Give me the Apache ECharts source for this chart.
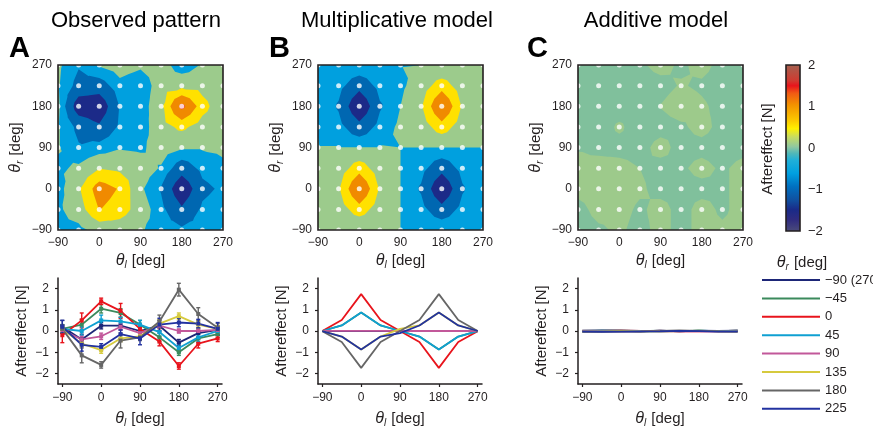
<!DOCTYPE html>
<html><head><meta charset="utf-8">
<script src="https://cdn.jsdelivr.net/npm/echarts@6/dist/echarts.min.js"></script>
<style>html,body{margin:0;padding:0;background:#fff}#c{width:873px;height:429px}</style>
</head><body><div id="c"></div>
<script>
// ---------------- data ----------------
const thetaL = [-90, -45, 0, 45, 90, 135, 180, 225, 270];
const thetaR = [-90, -45, 0, 45, 90, 135, 180, 225, 270];
const xTickValues = [-90, 0, 90, 180, 270];
const yTickValues = [-2, -1, 0, 1, 2];
const lineNames = ['\u221290 (270)', '\u221245', '0', '45', '90', '135', '180', '225'];
const lineColors = ['#1d2677', '#3b8a5c', '#e8141c', '#0fa0d2', '#c2589a', '#d6ca3e', '#666666', '#2232a0'];

// observed aftereffect, one array per theta_r (x = theta_l)
const obsM90 = [0.2, -0.4, 0.25, 0.25, 0.0, 0.25, -0.55, -0.1, 0.05];
const obsM45 = [0.1, 0.3, 1.05, 0.85, 0.3, -0.3, -1.0, -0.35, -0.15];
const obs0   = [-0.2, 0.5, 1.4, 0.95, 0.1, -0.5, -1.65, -0.6, -0.35];
const obs45  = [0.1, 0.0, 0.5, 0.45, 0.3, -0.05, -0.8, -0.3, 0.0];
const obs90  = [0.05, -0.4, -0.25, 0.2, -0.1, 0.25, 0.0, 0.0, 0.05];
const obs135 = [0.1, -0.6, -0.9, -0.35, -0.25, 0.35, 0.7, 0.3, 0.1];
const obs180 = [0.1, -1.15, -1.6, -0.45, -0.3, 0.45, 1.95, 0.8, 0.15];
const obs225 = [0.2, -0.65, -0.75, -0.15, -0.35, 0.3, 0.4, 0.35, 0.1];
const obsLines = [obsM90, obsM45, obs0, obs45, obs90, obs135, obs180, obs225];
// error bar half-lengths
const errM90 = [0.3, 0.25, 0.15, 0.2, 0.2, 0.25, 0.15, 0.2, 0.2];
const errM45 = [0.2, 0.25, 0.2, 0.2, 0.2, 0.2, 0.15, 0.2, 0.15];
const err0   = [0.35, 0.35, 0.15, 0.35, 0.2, 0.2, 0.15, 0.2, 0.15];
const err45  = [0.2, 0.2, 0.25, 0.2, 0.2, 0.2, 0.2, 0.2, 0.2];
const err90  = [0.15, 0.15, 0.15, 0.15, 0.15, 0.15, 0.1, 0.15, 0.15];
const err135 = [0.15, 0.15, 0.15, 0.15, 0.15, 0.2, 0.15, 0.15, 0.15];
const err180 = [0.2, 0.35, 0.15, 0.35, 0.15, 0.3, 0.3, 0.3, 0.2];
const err225 = [0.3, 0.3, 0.15, 0.2, 0.3, 0.3, 0.2, 0.2, 0.3];
const obsErr = [errM90, errM45, err0, err45, err90, err135, err180, err225];

// observed map, rows theta_r = -90 ... 270, columns theta_l = -90 ... 270
const obsMap = [
  [-0.1, -0.15, 0.2, 0.25, 0.05, -0.2, -0.35, -0.2, -0.1],
  [-0.1, 0.3, 1.12, 0.85, 0.3, -0.3, -1.0, -0.35, -0.15],
  [-0.2, 0.5, 1.4, 1.05, 0.1, -0.5, -1.65, -0.6, -0.35],
  [-0.1, 0.1, 0.55, 0.45, 0.3, -0.05, -0.8, -0.3, -0.1],
  [0.05, -0.4, -0.25, -0.05, -0.1, 0.25, 0.05, 0.05, 0.1],
  [0.05, -0.6, -1.0, -0.35, -0.25, 0.35, 0.7, 0.3, 0.1],
  [0.1, -1.5, -1.6, -0.42, -0.3, 0.45, 1.9, 0.8, 0.15],
  [0.05, -0.65, -0.75, -0.15, -0.35, 0.3, 0.4, 0.35, 0.1],
  [0.1, -0.4, 0.05, 0.25, 0.1, 0.25, -0.3, 0.05, 0.1]
];
// multiplicative model map (rows theta_r, columns theta_l)
const modelMap = [
  [0, 0, 0, 0, 0, -0.01, -0.01, -0.01, 0.003],
  [0, 0.26, 0.87, 0.26, 0, -0.26, -0.87, -0.26, -0.01],
  [0, 0.52, 1.74, 0.52, 0, -0.52, -1.74, -0.52, -0.01],
  [0, 0.26, 0.87, 0.26, 0, -0.26, -0.87, -0.26, -0.01],
  [0.01, 0.01, 0.01, 0.01, 0, 0, 0, 0, 0],
  [-0.01, -0.26, -0.87, -0.26, 0.1, 0.26, 0.87, 0.26, 0],
  [-0.01, -0.52, -1.74, -0.52, 0, 0.52, 1.74, 0.52, 0],
  [-0.01, -0.26, -0.87, -0.26, -0.1, 0.26, 0.87, 0.26, 0],
  [0.003, -0.01, -0.01, -0.01, -0.01, 0, 0, 0, 0]
];
// additive model map (rows theta_r, columns theta_l)
const addMap = [
  [-0.03, -0.01, 0.01, -0.02, 0.02, -0.02, 0.02, 0.01, 0.02],
  [-0.02, 0.02, 0.02, -0.01, 0.02, -0.02, 0.02, -0.01, 0.02],
  [0.02, 0.03, 0.03, 0.01, -0.02, -0.02, -0.02, -0.01, 0.02],
  [0.02, 0.03, 0.02, 0.0, -0.02, -0.01, 0.02, -0.01, 0.02],
  [-0.005, -0.02, -0.02, -0.02, 0.02, -0.02, -0.02, -0.03, -0.02],
  [-0.03, -0.03, 0.01, -0.03, -0.02, -0.01, 0.02, -0.02, -0.03],
  [-0.03, -0.03, -0.03, -0.02, 0.002, 0.03, 0.01, -0.02, -0.03],
  [-0.03, -0.04, -0.03, -0.03, -0.02, 0.005, -0.01, -0.03, -0.03],
  [-0.03, -0.03, -0.03, -0.01, 0.02, -0.01, 0.02, -0.02, -0.03]
];
// contour levels and fill colours
const mapLevels = [-1.72, -1.1, -0.45, 0, 0.57, 1.1, 1.72];
const mapColors = ['#1d2484', '#1c2a88', '#0067b1', '#00a0df', '#9ccb8c', '#ffe100', '#f08a00', '#e8141c'];
const addLevels = [0];
const addColors = ['#80c09c', '#9dca8b'];
// colour bar stops
const cbValues = [-2, -1.73, -1.49, -1.25, -0.93, -0.61, -0.29, -0.13, 0.03, 0.27, 0.47, 0.67, 1.04, 1.32, 1.5, 1.62, 2];
const cbColors = ['#4a4a7a', '#302c80', '#1a2a88', '#1050a0', '#0070c0', '#00a0e0', '#20b0d8', '#50b8b8', '#90c8a0', '#c8dc60', '#fff000', '#fcc800', '#f39200', '#f05a14', '#e8141c', '#d03a30', '#a5604f'];

// ---------------- helpers ----------------
const FONT = "'Liberation Sans', Arial, Helvetica, sans-serif";
const TXT = '#231f20';
const minusFmt = v => String(v).replace('-', '\u2212');
const mapRects = [{left: 58, top: 65}, {left: 318, top: 65}, {left: 578, top: 65}];
const lineRects = [{left: 58, top: 278}, {left: 318, top: 278}, {left: 578, top: 278}];
const richSub = {
  t: {fontStyle: 'italic', fontSize: 16, fontFamily: FONT, color: TXT},
  s: {fontStyle: 'italic', fontSize: 10, fontFamily: FONT, color: TXT, padding: [9, 1, 0, 0]},
  n: {fontSize: 15, fontFamily: FONT, color: TXT}
};
const nameL = '{t|\u03b8}{s|l}{n| [deg]}';
const nameR = '{t|\u03b8}{s|r}{n| [deg]}';

// shape drawing many polygons as a single path (no seams)
echarts.graphic.registerShape('multiPoly', echarts.graphic.extendShape({
  shape: {polys: []},
  buildPath: function (ctx, shape) {
    shape.polys.forEach(p => {
      ctx.moveTo(p[0][0], p[0][1]);
      for (let i = 1; i < p.length; i++) ctx.lineTo(p[i][0], p[i][1]);
      ctx.closePath();
    });
  }
}));

function clipTri(poly, level) {
  const out = [];
  for (let i = 0; i < poly.length; i++) {
    const a = poly[i], b = poly[(i + 1) % poly.length];
    const ina = a[2] >= level, inb = b[2] >= level;
    if (ina) out.push(a);
    if (ina !== inb) {
      const t = (level - a[2]) / (b[2] - a[2]);
      out.push([a[0] + t * (b[0] - a[0]), a[1] + t * (b[1] - a[1]), level]);
    }
  }
  return out;
}

function contourSeries(idx, grid, levels, colors) {
  return {
    type: 'custom', xAxisIndex: idx, yAxisIndex: idx, z: 1, silent: true,
    data: [[thetaL[0], thetaR[0]]],
    renderItem: function (params, api) {
      const children = [];
      const c0 = api.coord([thetaL[0], thetaR[0]]);
      const c1 = api.coord([thetaL[thetaL.length - 1], thetaR[thetaR.length - 1]]);
      children.push({type: 'rect', shape: {x: c0[0], y: c1[1], width: c1[0] - c0[0], height: c0[1] - c1[1]}, style: {fill: colors[0]}});
      const tris = [];
      for (let j = 0; j < thetaR.length - 1; j++) {
        for (let i = 0; i < thetaL.length - 1; i++) {
          const a = [thetaL[i], thetaR[j], grid[j][i]];
          const b = [thetaL[i + 1], thetaR[j], grid[j][i + 1]];
          const c = [thetaL[i + 1], thetaR[j + 1], grid[j + 1][i + 1]];
          const d = [thetaL[i], thetaR[j + 1], grid[j + 1][i]];
          const m = [(a[0] + b[0]) / 2, (a[1] + d[1]) / 2, (a[2] + b[2] + c[2] + d[2]) / 4];
          tris.push([a, b, m], [b, c, m], [c, d, m], [d, a, m]);
        }
      }
      levels.forEach((lv, k) => {
        const polys = [];
        tris.forEach(t => {
          const p = clipTri(t, lv);
          if (p.length >= 3) polys.push(p.map(q => api.coord([q[0], q[1]])));
        });
        if (polys.length) children.push({type: 'multiPoly', shape: {polys: polys}, style: {fill: colors[k + 1]}});
      });
      return {type: 'group', children: children};
    }
  };
}

function dotsSeries(idx) {
  const pts = [];
  thetaR.forEach(r => thetaL.forEach(l => pts.push([l, r])));
  return {type: 'scatter', xAxisIndex: idx, yAxisIndex: idx, data: pts, symbolSize: 5, clip: true, silent: true,
    itemStyle: {color: '#ffffff'}, z: 1};
}

// ---------------- layout ----------------
const grids = [], xAxes = [], yAxes = [], series = [];
mapRects.forEach((r, i) => {
  grids.push({left: r.left, top: r.top, width: 165, height: 165, show: true, borderColor: TXT, borderWidth: 1.6,
    backgroundColor: 'transparent', z: 5});
  xAxes.push({gridIndex: i, type: 'value', min: -90, max: 270, interval: 90,
    axisLine: {show: false}, axisTick: {show: false}, splitLine: {show: false},
    axisLabel: {fontSize: 12, fontFamily: FONT, color: TXT, margin: 7, formatter: minusFmt},
    name: nameL, nameLocation: 'middle', nameGap: 21, nameTextStyle: {fontSize: 15, fontFamily: FONT, color: TXT, rich: richSub}});
  yAxes.push({gridIndex: i, type: 'value', min: -90, max: 270, interval: 90,
    axisLine: {show: false}, axisTick: {show: false}, splitLine: {show: false},
    axisLabel: {fontSize: 12, fontFamily: FONT, color: TXT, margin: 6, formatter: minusFmt},
    name: nameR, nameLocation: 'middle', nameGap: 33, nameTextStyle: {fontSize: 15, fontFamily: FONT, color: TXT, rich: richSub}});
});
lineRects.forEach((r, i) => {
  const gi = i + 3;
  grids.push({left: r.left, top: r.top, width: 164, height: 107});
  xAxes.push({gridIndex: gi, type: 'value', min: -100, max: 280,
    axisLine: {show: true, onZero: false, lineStyle: {color: TXT, width: 1.5}},
    axisTick: {show: true, length: 3, lineStyle: {color: TXT, width: 1.2}, customValues: xTickValues},
    splitLine: {show: false},
    axisLabel: {fontSize: 12, fontFamily: FONT, color: TXT, margin: 8, formatter: minusFmt, customValues: xTickValues},
    name: nameL, nameLocation: 'middle', nameGap: 25, nameTextStyle: {fontSize: 15, fontFamily: FONT, color: TXT, rich: richSub}});
  yAxes.push({gridIndex: gi, type: 'value', min: -2.5, max: 2.5,
    axisLine: {show: true, onZero: false, lineStyle: {color: TXT, width: 1.5}},
    axisTick: {show: true, length: 3, lineStyle: {color: TXT, width: 1.2}, customValues: yTickValues},
    splitLine: {show: false},
    axisLabel: {fontSize: 12, fontFamily: FONT, color: TXT, margin: 9, formatter: minusFmt, customValues: yTickValues},
    name: 'Aftereffect [N]', nameLocation: 'middle', nameGap: 29, nameTextStyle: {fontSize: 15, fontFamily: FONT, color: TXT}});
});
// colour bar
grids.push({left: 786, top: 65, width: 14, height: 166, show: true, borderColor: TXT, borderWidth: 1.6, backgroundColor: 'transparent', z: 5});
xAxes.push({gridIndex: 6, type: 'value', min: 0, max: 1, show: false});
yAxes.push({gridIndex: 6, type: 'value', min: -2, max: 2, interval: 1, position: 'right',
  axisLine: {show: false}, axisTick: {show: false}, splitLine: {show: false},
  axisLabel: {fontSize: 13, fontFamily: FONT, color: TXT, margin: 8, formatter: minusFmt}});

// contour maps
series.push(contourSeries(0, obsMap, mapLevels, mapColors));
series.push(contourSeries(1, modelMap, mapLevels, mapColors));
series.push(contourSeries(2, addMap, addLevels, addColors));
[0, 1, 2].forEach(i => series.push(dotsSeries(i)));

// colour bar rect
series.push({type: 'custom', xAxisIndex: 6, yAxisIndex: 6, silent: true, z: 1, data: [[0, cbValues[0]]],
  renderItem: function (params, api) {
    const vMin = cbValues[0], vMax = cbValues[cbValues.length - 1];
    const p0 = api.coord([0, vMin]), p1 = api.coord([1, vMax]);
    const stops = cbValues.map((v, k) => ({offset: (v - vMin) / (vMax - vMin), color: cbColors[k]}));
    return {type: 'rect', shape: {x: p0[0], y: p1[1], width: p1[0] - p0[0], height: p0[1] - p1[1]},
      style: {fill: new echarts.graphic.LinearGradient(0, 1, 0, 0, stops)}};
  }});

// observed lines with error bars
const errData = [];
obsLines.forEach((arr, k) => arr.forEach((v, i) => errData.push([thetaL[i], v, obsErr[k][i], k])));
series.push({type: 'custom', xAxisIndex: 3, yAxisIndex: 3, silent: true, data: errData, z: 2,
  renderItem: function (params, api) {
    const x = api.value(0), y = api.value(1), e = api.value(2), k = api.value(3);
    const top = api.coord([x, y + e]), bot = api.coord([x, y - e]);
    const col = lineColors[k];
    return {type: 'group', children: [
      {type: 'line', shape: {x1: top[0], y1: top[1], x2: bot[0], y2: bot[1]}, style: {stroke: col, lineWidth: 1.4}},
      {type: 'line', shape: {x1: top[0] - 2, y1: top[1], x2: top[0] + 2, y2: top[1]}, style: {stroke: col, lineWidth: 1.4}},
      {type: 'line', shape: {x1: bot[0] - 2, y1: bot[1], x2: bot[0] + 2, y2: bot[1]}, style: {stroke: col, lineWidth: 1.4}}
    ]};
  }});
obsLines.forEach((arr, k) => {
  series.push({type: 'line', name: lineNames[k], xAxisIndex: 3, yAxisIndex: 3, z: 3,
    data: arr.map((v, i) => [thetaL[i], v]), symbol: 'rect', symbolSize: 4, showSymbol: true,
    color: lineColors[k], lineStyle: {width: 1.8, color: lineColors[k]}, itemStyle: {color: lineColors[k]}, silent: true});
});
// model lines (rows theta_r = -90 ... 225 of the model map)
for (let k = 0; k < 8; k++) {
  series.push({type: 'line', name: lineNames[k], xAxisIndex: 4, yAxisIndex: 4, z: 3,
    data: modelMap[k].map((v, i) => [thetaL[i], v]), symbol: 'none',
    color: lineColors[k], lineStyle: {width: 1.8, color: lineColors[k]}, silent: true});
}
// additive lines (rows theta_r = -90 ... 225 of the additive map)
for (let k = 0; k < 8; k++) {
  series.push({type: 'line', name: lineNames[k], xAxisIndex: 5, yAxisIndex: 5, z: 3,
    data: addMap[k].map((v, i) => [thetaL[i], v]), symbol: 'none',
    color: lineColors[k], lineStyle: {width: 1.8, color: lineColors[k]}, silent: true});
}

const titleStyle = {font: "22px " + FONT, fill: '#000', align: 'center', verticalAlign: 'middle'};
const letterStyle = {font: "bold 29px " + FONT, fill: '#000', align: 'left', verticalAlign: 'middle'};
const graphics = [
  {type: 'text', x: 136, y: 21, style: Object.assign({text: 'Observed pattern'}, titleStyle)},
  {type: 'text', x: 397, y: 21, style: Object.assign({text: 'Multiplicative model'}, titleStyle)},
  {type: 'text', x: 656, y: 21, style: Object.assign({text: 'Additive model'}, titleStyle)},
  {type: 'text', x: 9, y: 49, style: Object.assign({text: 'A'}, letterStyle)},
  {type: 'text', x: 269, y: 49, style: Object.assign({text: 'B'}, letterStyle)},
  {type: 'text', x: 527, y: 49, style: Object.assign({text: 'C'}, letterStyle)},
  {type: 'text', x: 768, y: 149, rotation: Math.PI / 2,
    style: {text: 'Aftereffect [N]', font: '15px ' + FONT, fill: TXT, align: 'center', verticalAlign: 'middle'}},
  {type: 'text', x: 802, y: 263,
    style: {text: nameR, font: '15px ' + FONT, fill: TXT, align: 'center', verticalAlign: 'middle', rich: richSub}}
];

const option = {
  animation: false,
  grid: grids, xAxis: xAxes, yAxis: yAxes, series: series,
  legend: {data: lineNames, orient: 'vertical', left: 762, top: 273, padding: 0, icon: 'rect', itemWidth: 58, itemHeight: 2,
    itemGap: 4.4, selectedMode: false, textStyle: {fontSize: 13, fontFamily: FONT, color: TXT, lineHeight: 14}},
  graphic: graphics
};
const chart = echarts.init(document.getElementById('c'), null, {width: 873, height: 429});
chart.setOption(option);
</script></body></html>
